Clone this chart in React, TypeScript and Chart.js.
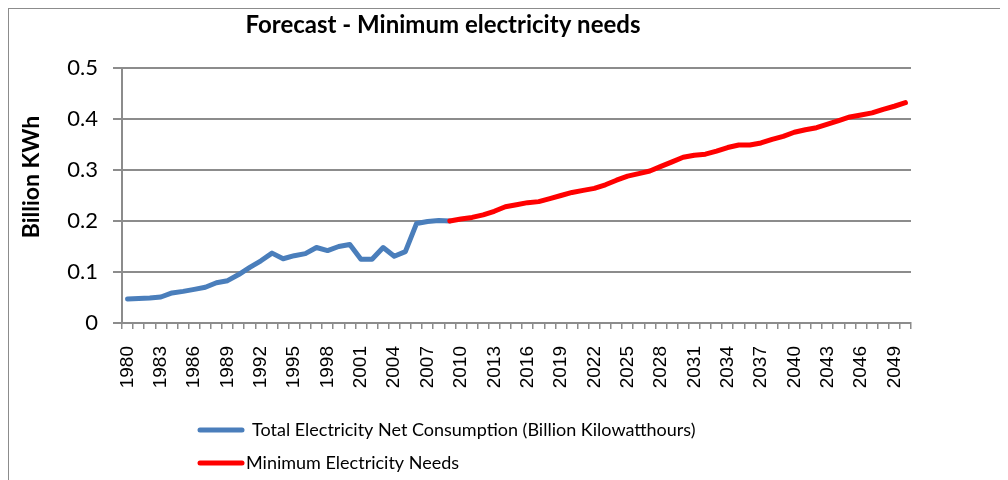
import React, { useEffect, useRef } from "react";
import { Chart, registerables } from "chart.js";

Chart.register(...registerables);

const years: string[] = [
  "1980", "1981", "1982", "1983", "1984", "1985", "1986", "1987", "1988", "1989",
  "1990", "1991", "1992", "1993", "1994", "1995", "1996", "1997", "1998", "1999",
  "2000", "2001", "2002", "2003", "2004", "2005", "2006", "2007", "2008", "2009",
  "2010", "2011", "2012", "2013", "2014", "2015", "2016", "2017", "2018", "2019",
  "2020", "2021", "2022", "2023", "2024", "2025", "2026", "2027", "2028", "2029",
  "2030", "2031", "2032", "2033", "2034", "2035", "2036", "2037", "2038", "2039",
  "2040", "2041", "2042", "2043", "2044", "2045", "2046", "2047", "2048", "2049",
  "2050",
];

// Total Electricity Net Consumption, 1980-2009
const consumption: number[] = [
  0.047, 0.048, 0.049, 0.051, 0.059, 0.062, 0.066, 0.070, 0.079, 0.083,
  0.095, 0.109, 0.122, 0.137, 0.126, 0.132, 0.136, 0.148, 0.142, 0.150,
  0.154, 0.125, 0.125, 0.148, 0.131, 0.140, 0.195, 0.199, 0.201, 0.200,
];

// Minimum Electricity Needs, 2009-2050
const minimumNeeds: number[] = [
  0.200, 0.204, 0.207, 0.212, 0.219, 0.228, 0.232, 0.236, 0.238, 0.244,
  0.250, 0.256, 0.260, 0.264, 0.271, 0.280, 0.288, 0.293, 0.298, 0.307,
  0.316, 0.325, 0.329, 0.331, 0.337, 0.344, 0.349, 0.349, 0.353, 0.360,
  0.366, 0.374, 0.379, 0.383, 0.390, 0.397, 0.404, 0.408, 0.412, 0.419,
  0.425, 0.432,
];

const titleText = "Forecast - Minimum electricity needs";
const yTitleText = "Billion KWh";
const seriesNames = [
  "Total Electricity Net Consumption (Billion Kilowatthours)",
  "Minimum Electricity Needs",
];
const seriesColors = ["#4a7ebb", "#ff0000"];

const W = 997;
const H = 471;

export default function App() {
  const ref = useRef<HTMLCanvasElement | null>(null);

  useEffect(() => {
    if (!ref.current) return;
    const blueData: (number | null)[] = years.map((_, i) =>
      i < consumption.length ? consumption[i] : null
    );
    const redStart = years.length - minimumNeeds.length;
    const redData: (number | null)[] = years.map((_, i) =>
      i >= redStart ? minimumNeeds[i - redStart] : null
    );

    const decor = {
      id: "decor",
      afterDraw(chart: any) {
        const ctx = chart.ctx as CanvasRenderingContext2D;
        ctx.save();
        ctx.fillStyle = "#000";
        // title
        ctx.font = "bold 24px Lato";
        ctx.textAlign = "center";
        ctx.textBaseline = "alphabetic";
        ctx.fillText(titleText, 434, 24);
        // y title
        ctx.save();
        ctx.translate(23, 168);
        ctx.rotate(-Math.PI / 2);
        ctx.font = "bold 23px Lato";
        ctx.textAlign = "center";
        ctx.textBaseline = "middle";
        ctx.fillText(yTitleText, 0, 0);
        ctx.restore();
        // legend
        const rows = [
          { y: 421, tx: 243 },
          { y: 454, tx: 237 },
        ];
        rows.forEach((r, k) => {
          ctx.strokeStyle = seriesColors[k];
          ctx.lineWidth = 5;
          ctx.lineCap = "round";
          ctx.beginPath();
          ctx.moveTo(191, r.y);
          ctx.lineTo(233, r.y);
          ctx.stroke();
          ctx.font = "18px Lato";
          ctx.textAlign = "left";
          ctx.textBaseline = "middle";
          ctx.fillText(seriesNames[k], r.tx, r.y);
        });
        ctx.restore();
      },
    };

    const chart = new Chart(ref.current, {
      type: "line",
      data: {
        labels: years,
        datasets: [
          {
            label: seriesNames[0],
            data: blueData,
            borderColor: seriesColors[0],
            backgroundColor: seriesColors[0],
            borderWidth: 5,
            pointRadius: 0,
            tension: 0,
            borderJoinStyle: "round",
            borderCapStyle: "round",
            order: 1,
          },
          {
            label: seriesNames[1],
            data: redData,
            borderColor: seriesColors[1],
            backgroundColor: seriesColors[1],
            borderWidth: 5,
            pointRadius: 0,
            tension: 0,
            borderJoinStyle: "round",
            borderCapStyle: "round",
            order: 0,
          },
        ],
      },
      options: {
        animation: false,
        responsive: false,
        maintainAspectRatio: false,
        layout: { padding: { top: 59, right: 95, left: 0, bottom: 0 } },
        plugins: {
          legend: { display: false },
          title: { display: false },
          tooltip: { enabled: false },
        },
        scales: {
          x: {
            type: "category",
            offset: true,
            grid: {
              offset: true,
              drawOnChartArea: false,
              tickLength: 6,
              color: "#8c8c8c",
              lineWidth: 1.5,
            },
            border: { color: "#8c8c8c", width: 2 },
            ticks: {
              autoSkip: false,
              maxRotation: 90,
              minRotation: 90,
              padding: 17,
              color: "#000",
              font: { family: "Liberation Sans", size: 19 },
              callback: (_v: any, i: number) => (i % 3 === 0 ? years[i] : ""),
            },
            afterFit: (s: any) => {
              s.height = 157;
            },
          },
          y: {
            min: 0,
            max: 0.5,
            grid: { tickLength: 9, color: "#8c8c8c", lineWidth: 2 },
            border: { color: "#8c8c8c", width: 2 },
            ticks: {
              stepSize: 0.1,
              padding: 15,
              color: "#000",
              font: { family: "Lato", size: 22 },
              callback: (v: any) => String(Number(Number(v).toFixed(1))),
            },
            afterFit: (s: any) => {
              s.width = 113;
            },
          },
        },
      },
      plugins: [decor],
    } as any);

    return () => chart.destroy();
  }, []);

  return (
    <div
      style={{
        width: W,
        height: H,
        borderTop: "1px solid #8c8c8c",
        borderLeft: "1px solid #8c8c8c",
        borderRight: "1px solid #8c8c8c",
      }}
    >
      <canvas ref={ref} width={W} height={H} style={{ display: "block" }} />
    </div>
  );
}
